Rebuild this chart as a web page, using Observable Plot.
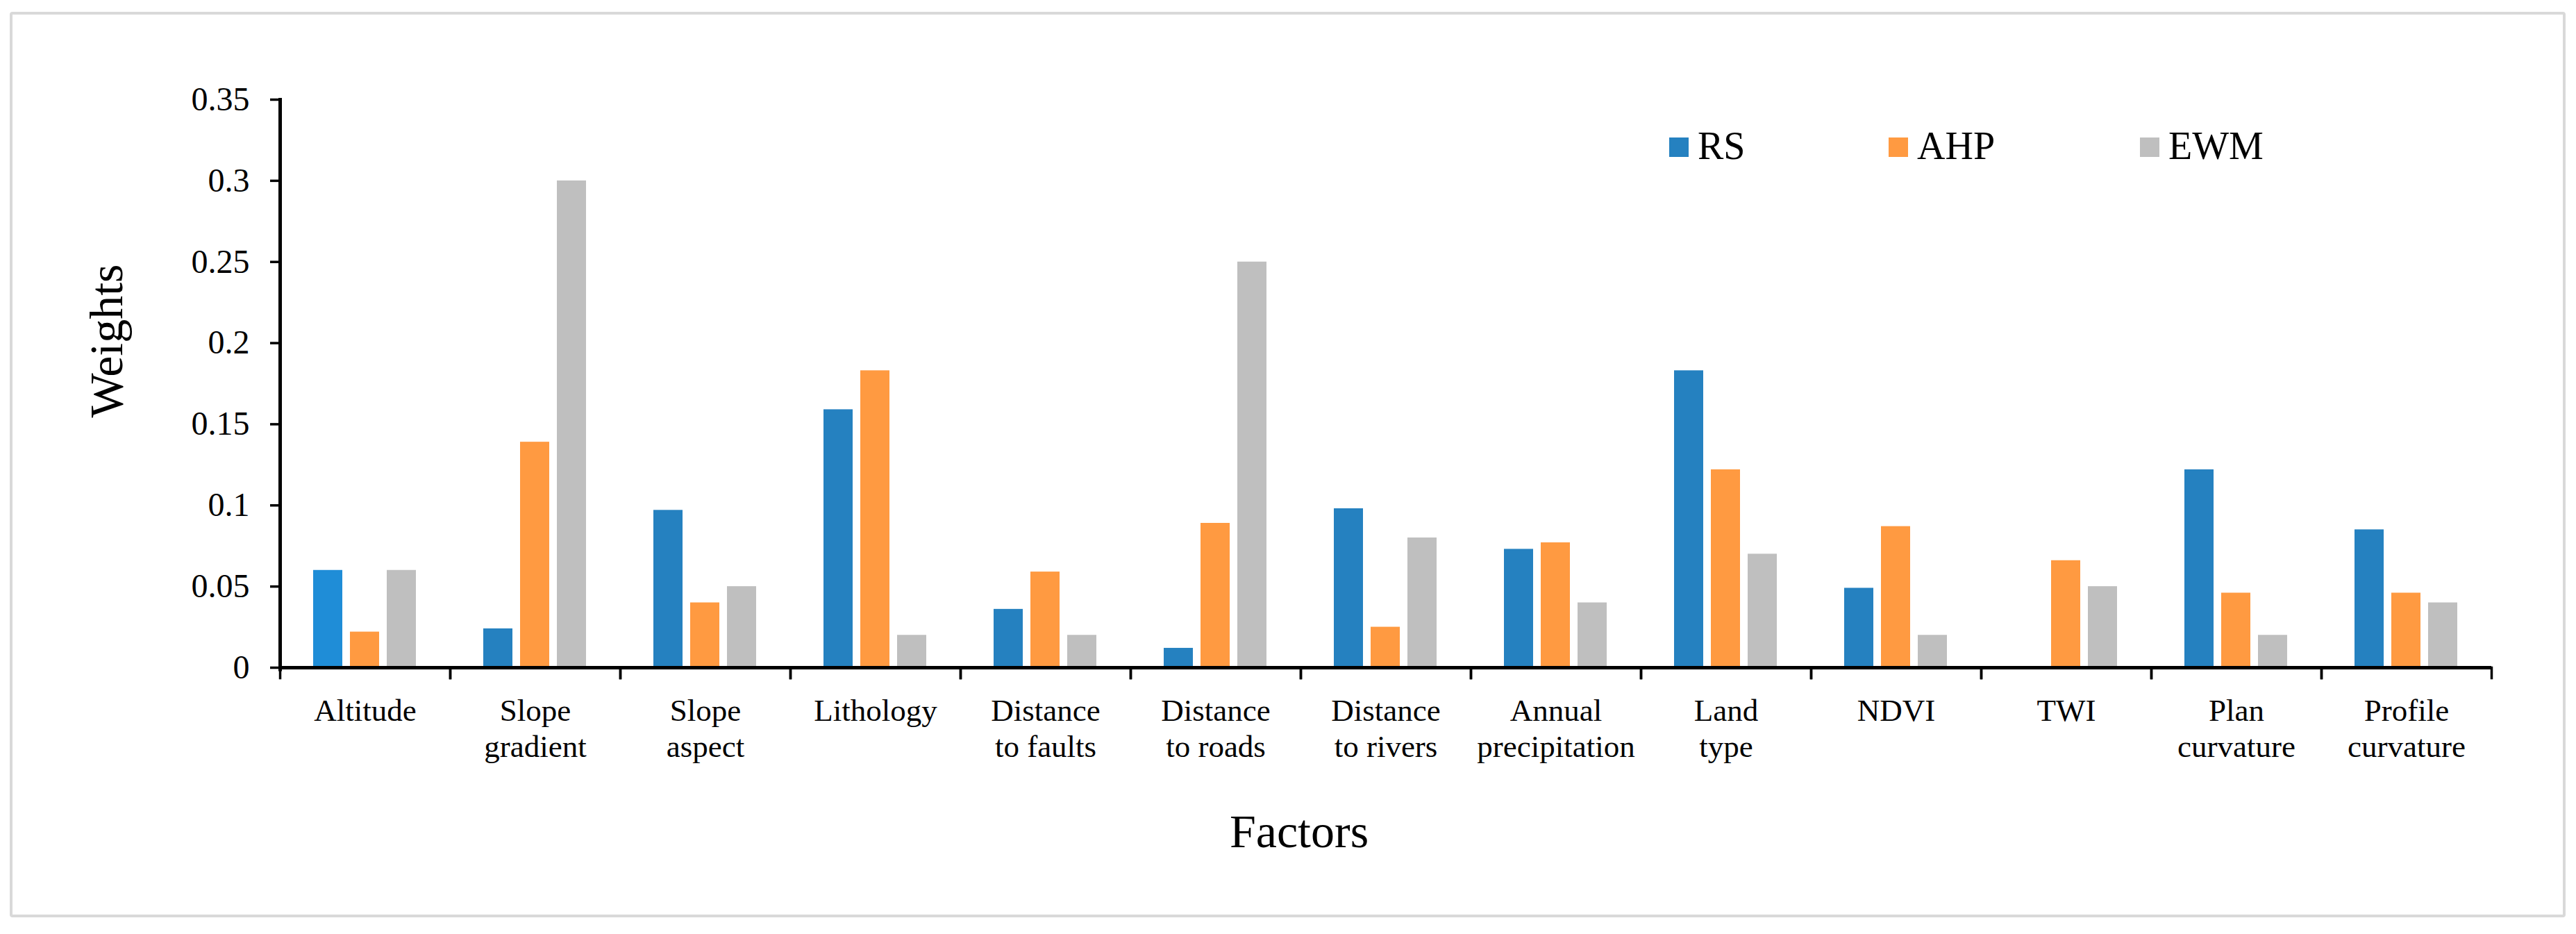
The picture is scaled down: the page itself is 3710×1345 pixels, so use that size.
<!DOCTYPE html>
<html>
<head>
<meta charset="utf-8">
<script src="https://cdn.jsdelivr.net/npm/d3@7"></script>
<script src="https://cdn.jsdelivr.net/npm/@observablehq/plot@0.6"></script>
<style>
html, body { margin: 0; padding: 0; background: #fff; }
#wrap { position: relative; width: 3710px; height: 1345px; font-family: "Liberation Serif", "Times New Roman", serif; color: #000; overflow: hidden; }
#border { position: absolute; left: 14px; top: 17px; width: 3681px; height: 1304px; box-sizing: border-box; border: 4px solid #d9d9d9; border-radius: 4px; }
#chart { position: absolute; left: 0; top: 0; }
#chart svg, #chart svg text, #chart svg tspan { font-family: "Liberation Serif", "Times New Roman", serif !important; }
.sw { position: absolute; width: 28px; height: 28px; }
.lt { position: absolute; font-family: "Liberation Serif", "Times New Roman", serif; font-size: 56px; line-height: 56px; white-space: nowrap; }
#xtitle { position: absolute; left: 1871px; top: 1163px; transform: translateX(-50%); font-family: "Liberation Serif", serif; font-size: 68px; line-height: 68px; white-space: nowrap; }
#ytitle { position: absolute; left: 153px; top: 491px; transform: translate(-50%, -50%) rotate(-90deg); font-family: "Liberation Serif", serif; font-size: 68px; line-height: 68px; white-space: nowrap; }
</style>
</head>
<body>
<div id="wrap">
  <div id="border"></div>
  <div id="chart"></div>
  <div id="legend"></div>
  <div id="xtitle">Factors</div>
  <div id="ytitle">Weights</div>
</div>
<script>
// ---- data ----
const factors = ["Altitude", "Slope gradient", "Slope aspect", "Lithology", "Distance to faults",
  "Distance to roads", "Distance to rivers", "Annual precipitation", "Land type", "NDVI", "TWI",
  "Plan curvature", "Profile curvature"];
const factorLabels = ["Altitude", "Slope\ngradient", "Slope\naspect", "Lithology", "Distance\nto faults",
  "Distance\nto roads", "Distance\nto rivers", "Annual\nprecipitation", "Land\ntype", "NDVI", "TWI",
  "Plan\ncurvature", "Profile\ncurvature"];
const methods = ["RS", "AHP", "EWM"];
const rsValues  = [0.060, 0.024, 0.097, 0.159, 0.036, 0.012, 0.098, 0.073, 0.183, 0.049, 0.000, 0.122, 0.085];
const ahpValues = [0.022, 0.139, 0.040, 0.183, 0.059, 0.089, 0.025, 0.077, 0.122, 0.087, 0.066, 0.046, 0.046];
const ewmValues = [0.060, 0.300, 0.050, 0.020, 0.020, 0.250, 0.080, 0.040, 0.070, 0.020, 0.050, 0.020, 0.040];
const yTicks = [0, 0.05, 0.1, 0.15, 0.2, 0.25, 0.3, 0.35];
const yTickLabels = ["0", "0.05", "0.1", "0.15", "0.2", "0.25", "0.3", "0.35"];

// ---- styles ----
const palette = ["#2581c0", "#ff9a41", "#bfbfbf"];
const altitudeRSColor = "#1f8dd7";
const serif = '"Liberation Serif", "Times New Roman", serif';

// ---- table ----
const series = [rsValues, ahpValues, ewmValues];
const table = [];
factors.forEach((f, i) => {
  methods.forEach((m, j) => {
    table.push({factor: f, label: factorLabels[i], method: m, value: series[j][i]});
  });
});

const W = 3710, H = 1345, mT = 143, mB = 384, mL = 398, mR = 118;
const plotH = H - mT - mB;

const chart = Plot.plot({
  width: W,
  height: H,
  marginTop: mT,
  marginBottom: mB,
  marginLeft: mL,
  marginRight: mR,
  style: {fontFamily: serif, background: "transparent", color: "#000", overflow: "visible"},
  fx: {domain: factorLabels, padding: 0, label: null},
  x: {domain: methods, axis: null, paddingInner: 0.2, paddingOuter: 0.87},
  y: {domain: [0, 0.35], label: null},
  marks: [
    Plot.barY(table, {
      fx: "label", x: "method", y: "value",
      fill: d => (d.method === methods[0] && d.factor === factors[0]) ? altitudeRSColor : palette[methods.indexOf(d.method)]
    }),
    Plot.ruleY([0], {stroke: "#000", strokeWidth: 5}),
    Plot.frame({anchor: "left", stroke: "#000", strokeWidth: 5, facetAnchor: "left", insetBottom: -2.5}),
    Plot.frame({anchor: "left", stroke: "#000", strokeWidth: 3.5, insetTop: plotH, insetBottom: -15}),
    Plot.frame({anchor: "right", stroke: "#000", strokeWidth: 3.5, insetTop: plotH, insetBottom: -15}),
    Plot.axisY({
      ticks: yTicks,
      tickFormat: d => yTickLabels[yTicks.indexOf(d)],
      tickSize: 14, tickPadding: 30, strokeWidth: 3.5, stroke: "#000",
      fontSize: 48, fontFamily: serif, label: null
    }),
    Plot.axisFx({
      anchor: "bottom", tickSize: 0, tickPadding: 40,
      fontSize: 45, fontFamily: serif, lineHeight: 1.15, label: null
    })
  ]
});
document.getElementById("chart").appendChild(chart);

// ---- legend ----
const legendSwatchX = [2404, 2720, 3082];
const legend = document.getElementById("legend");
methods.forEach((m, j) => {
  const sw = document.createElement("div");
  sw.className = "sw";
  sw.style.left = legendSwatchX[j] + "px";
  sw.style.top = "198px";
  sw.style.background = palette[j];
  legend.appendChild(sw);
  const t = document.createElement("div");
  t.className = "lt";
  t.style.left = (legendSwatchX[j] + 41) + "px";
  t.style.top = "182px";
  t.textContent = m;
  legend.appendChild(t);
});
</script>
</body>
</html>
